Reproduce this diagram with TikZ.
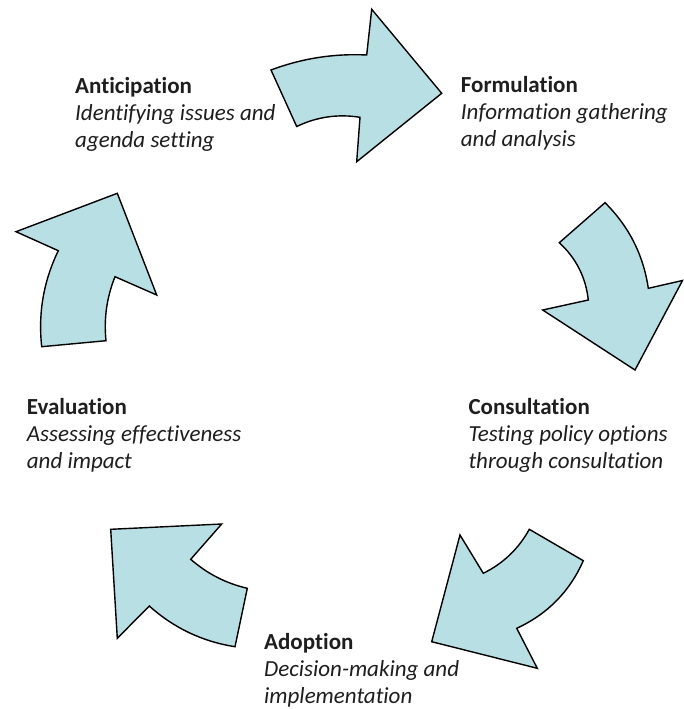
\documentclass[tikz,border=0pt]{standalone}
\usepackage{fontspec}
\setmainfont[Ligatures={NoCommon}]{Carlito}
\usetikzlibrary{calc}
\definecolor{arrowfill}{RGB}{184,223,227}
\definecolor{txt}{RGB}{30,30,30}
\begin{document}
\begin{tikzpicture}[x=1pt,y=-1pt,
  cyc/.style={draw=black, fill=arrowfill, line width=1.4pt, line join=miter},
  arcto/.style={to path={.. controls ($(\tikztostart)!.6667!#1$) and ($(\tikztotarget)!.6667!#1$) .. (\tikztotarget)}},
  lbl/.style={anchor=north west, inner sep=0pt, align=left, text=txt,
    font=\fontsize{23}{27}\selectfont}]
\useasboundingbox[fill=white] (0,0) rectangle (683,709);

% top arrow
\draw[cyc] (271,70) to[arcto={(317.3,52.6)}] (366.7,55) -- (371.7,9.3) -- (441.7,93.3)
  -- (356.7,161.7) -- (360,117.3) to[arcto={(326.9,112.0)}] (296.7,126.5) -- cycle;
% right arrow
\draw[cyc] (605,202.7) to[arcto={(640.9,238.3)}] (648.3,288.3) -- (682.5,280.5) -- (635,370)
  -- (542.7,310) -- (588.3,300) to[arcto={(584.5,265.9)}] (559.3,242.7) -- cycle;
% bottom-right arrow
\draw[cyc] (529.3,529.3) to[arcto={(513.2,558.5)}] (483.3,573.3) -- (460,535) -- (431.7,641.7)
  -- (537.3,668.3) -- (516.7,628.3) to[arcto={(562.8,607.1)}] (583.3,560.7) -- cycle;
% bottom-left arrow
\draw[cyc] (235,646.7) to[arcto={(186.1,639.0)}] (149.3,606) -- (117.3,638.3) -- (110.7,529.3)
  -- (221.7,524) -- (190.7,559.3) to[arcto={(215.4,580.9)}] (247.3,588.3) -- cycle;
% left arrow
\draw[cyc] (41.7,346.7) to[arcto={(36.2,296.3)}] (58.3,250.7) -- (16,231.7) -- (117.3,193.3)
  -- (156.7,295) -- (115,276.7) to[arcto={(102.6,307.6)}] (106,340.7) -- cycle;

\node[lbl] (ant) at (75,77) {\textbf{Anticipation}\\\textit{Identifying issues and}\\\textit{agenda setting}};
\node[lbl] (form) at (460.7,76.5) {\textbf{Formulation}\\\textit{Information gathering}\\\textit{and analysis}};
\node[lbl] (eval) at (26.7,398.5) {\textbf{Evaluation}\\\textit{Assessing effectiveness}\\\textit{and impact}};
\node[lbl] (cons) at (468.3,398.5) {\textbf{Consultation}\\\textit{Testing policy options}\\\textit{through consultation}};
\node[lbl] (adop) at (264,633.5) {\textbf{Adoption}\\\textit{Decision-making and}\\\textit{implementation}};
\end{tikzpicture}
\end{document}
